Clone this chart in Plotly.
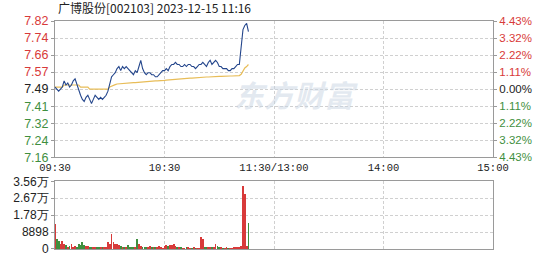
import plotly.graph_objects as go

title_text = "广博股份[002103] 2023-12-15 11:16"
prev_close = 7.49

price = [7.50, 7.49, 7.48, 7.49, 7.50, 7.53, 7.51, 7.52, 7.50, 7.51,
         7.53, 7.54, 7.51, 7.49, 7.46, 7.44, 7.43, 7.45, 7.46, 7.44,
         7.42, 7.44, 7.46, 7.45, 7.44, 7.45, 7.44, 7.45, 7.46, 7.48,
         7.52, 7.55, 7.56, 7.57, 7.59, 7.60, 7.58, 7.60, 7.59, 7.60,
         7.59, 7.58, 7.57, 7.56, 7.58, 7.57, 7.60, 7.63, 7.59, 7.57,
         7.56, 7.57, 7.57, 7.56, 7.56, 7.55, 7.55, 7.56, 7.57, 7.58,
         7.58, 7.59, 7.58, 7.60, 7.61, 7.61, 7.62, 7.61, 7.61, 7.60,
         7.60, 7.61, 7.60, 7.61, 7.61, 7.60, 7.60, 7.59, 7.60, 7.61,
         7.61, 7.62, 7.61, 7.60, 7.62, 7.63, 7.61, 7.62, 7.63, 7.62,
         7.60, 7.60, 7.59, 7.59, 7.59, 7.58, 7.58, 7.59, 7.59, 7.60,
         7.61, 7.61, 7.70, 7.78, 7.80, 7.81, 7.77]

avg = [7.50, 7.50, 7.50, 7.50, 7.50, 7.51, 7.51, 7.51, 7.51, 7.51,
       7.51, 7.51, 7.51, 7.51, 7.50, 7.50, 7.50, 7.50, 7.50, 7.49,
       7.49, 7.49, 7.49, 7.49, 7.49, 7.49, 7.49, 7.49, 7.49, 7.49,
       7.50, 7.505, 7.51, 7.512, 7.515, 7.516, 7.518, 7.519, 7.52, 7.52,
       7.521, 7.521, 7.522, 7.522, 7.522, 7.523, 7.524, 7.525, 7.526, 7.526,
       7.527, 7.527, 7.528, 7.528, 7.529, 7.53, 7.53, 7.53, 7.531, 7.532,
       7.533, 7.534, 7.535, 7.536, 7.537, 7.538, 7.539, 7.54, 7.541, 7.541,
       7.542, 7.542, 7.543, 7.543, 7.544, 7.544, 7.545, 7.545, 7.545, 7.546,
       7.547, 7.548, 7.549, 7.549, 7.549, 7.55, 7.55, 7.55, 7.55, 7.551,
       7.552, 7.552, 7.553, 7.553, 7.553, 7.554, 7.554, 7.554, 7.555, 7.555,
       7.555, 7.556, 7.562, 7.578, 7.593, 7.60, 7.61]

volume = [12700, 5100, 4200, 2500, 4200, 2500, 1700, 900, 1200, 2500,
          900, 1300, 900, 2500, 1700, 3400, 2000, 1300, 1300, 900,
          600, 500, 500, 400, 500, 600, 400, 800, 900, 3400,
          2500, 7600, 3400, 2500, 2500, 1700, 1300, 900, 800, 600,
          1700, 600, 800, 500, 600, 5100, 2500, 1300, 800, 600,
          500, 500, 1300, 700, 600, 400, 500, 1200, 400, 300,
          1300, 1700, 1300, 2000, 1700, 2500, 1300, 600, 500, 400,
          300, 300, 400, 900, 300, 300, 400, 300, 200, 300,
          5900, 5000, 600, 500, 400, 600, 500, 800, 2500, 1300,
          700, 400, 300, 300, 400, 300, 300, 300, 400, 400,
          500, 900, 1500, 33000, 28500, 1500, 13500]

price_ticks = [7.16, 7.24, 7.32, 7.41, 7.49, 7.57, 7.66, 7.74, 7.82]
pct_ticks = ["4.43%", "3.32%", "2.22%", "1.11%", "0.00%", "1.11%", "2.22%", "3.32%", "4.43%"]
vol_ticks = [0, 8898, 17796, 26694, 35592]
vol_labels = ["0", "8898", "1.78万", "2.67万", "3.56万"]
time_ticks = [0, 60, 120, 180, 240]
time_labels = ["09:30", "10:30", "11:30/13:00", "14:00", "15:00"]

RED = "#d83a3a"
GREEN = "#3f8f3f"
minutes = list(range(len(price)))

half = 0.3318
pmin, pmax = prev_close - half, prev_close + half
tick_pos = [pmin + i * (pmax - pmin) / 8 for i in range(9)]

def col(i):
    return RED if i > 4 else (GREEN if i < 4 else "#222")

left_text = [f"<span style='color:{col(i)}'>{v:.2f}</span>" for i, v in enumerate(price_ticks)]
right_text = [f"<span style='color:{col(i)}'>{t}</span>" for i, t in enumerate(pct_ticks)]

bar_colors = []
prev = prev_close
for p in price:
    bar_colors.append(RED if p >= prev else GREEN)
    prev = p

fig = go.Figure()
fig.add_trace(go.Scatter(x=minutes, y=avg, mode="lines",
                         line=dict(color="#e8bd58", width=1.2), xaxis="x", yaxis="y"))
fig.add_trace(go.Scatter(x=minutes, y=price, mode="lines",
                         line=dict(color="#24468c", width=1.1), xaxis="x", yaxis="y"))
fig.add_trace(go.Scatter(x=[0, 240], y=[prev_close, prev_close], mode="lines",
                         line=dict(color="rgba(0,0,0,0)", width=0), xaxis="x", yaxis="y2",
                         hoverinfo="skip"))
fig.add_trace(go.Bar(x=minutes, y=volume, marker=dict(color=bar_colors, line=dict(width=0)),
                     width=0.42, xaxis="x2", yaxis="y3"))

grid = dict(showgrid=True, gridcolor="#d0d0d0", griddash="3px,2px", gridwidth=1)

fig.update_layout(
    width=549, height=262,
    margin=dict(l=55, r=56, t=20.7, b=5.3),
    paper_bgcolor="white", plot_bgcolor="white",
    showlegend=False,
    bargap=0,
    xaxis=dict(domain=[0, 1], range=[0, 240], tickvals=time_ticks, ticktext=time_labels,
               showline=True, linecolor="#9a9a9a", mirror=True, ticks="",
               tickfont=dict(family="Liberation Mono", size=10.5, color="#222"),
               anchor="y", zeroline=False, **grid),
    yaxis=dict(domain=[0.4025, 1], range=[pmin, pmax], tickvals=tick_pos, ticktext=left_text,
               showline=True, linecolor="#9a9a9a", mirror=True, ticks="outside",
               ticklen=3, tickcolor="#9a9a9a",
               tickfont=dict(family="Liberation Sans", size=12.5),
               zeroline=False, anchor="x", **grid),
    yaxis2=dict(overlaying="y", side="right", range=[pmin, pmax], tickvals=tick_pos,
                ticktext=right_text, showgrid=False, zeroline=False, anchor="x",
                ticks="outside", ticklen=3, tickcolor="#9a9a9a",
                tickfont=dict(family="Liberation Sans", size=11.5)),
    xaxis2=dict(domain=[0, 1], range=[0, 240], tickvals=time_ticks, showticklabels=False,
                showline=True, linecolor="#9a9a9a", mirror=True, ticks="",
                anchor="y3", zeroline=False, **grid),
    yaxis3=dict(domain=[0, 0.2966], range=[0, 35592], tickvals=vol_ticks, ticktext=vol_labels,
                showline=True, linecolor="#9a9a9a", mirror=True, ticks="outside",
                ticklen=3, tickcolor="#9a9a9a",
                tickfont=dict(family="Liberation Sans", size=12, color="#222"),
                zeroline=False, anchor="x2", **grid),
    annotations=[
        dict(text=title_text, xref="paper", yref="paper", x=0.003, y=1.0, yshift=3,
             xanchor="left", yanchor="bottom", showarrow=False,
             font=dict(family="Noto Sans CJK SC", size=12, color="#222")),
        dict(text="<b><i>东方财富</i></b>", xref="x", yref="y", x=132, y=7.465,
             xanchor="center", yanchor="middle", showarrow=False,
             font=dict(family="Noto Sans CJK SC", size=30, color="rgba(200,212,226,0.5)")),
    ],
)

fig.write_html("out.html")
